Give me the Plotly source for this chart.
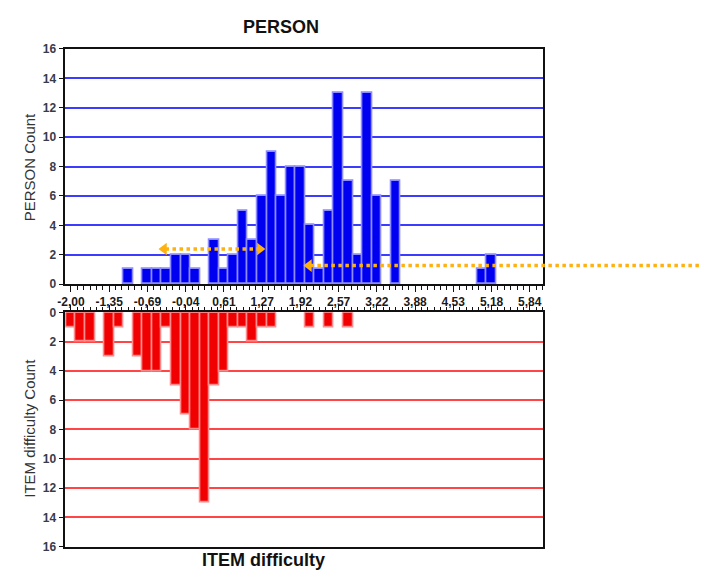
import plotly.graph_objects as go

W, H = 701, 577

# Histogram bins (logit scale): bin k is centred at BIN_START + k * BIN_WIDTH
BIN_START = -2.00
BIN_WIDTH = 0.16333

# Person counts per bin index
person_bins = [6, 8, 9, 10, 11, 12, 13, 15, 16, 17, 18, 19, 20, 21, 22, 23, 24,
               25, 26, 27, 28, 29, 30, 31, 32, 34, 43, 44]
person_counts = [1, 1, 1, 1, 2, 2, 1, 3, 1, 2, 5, 3, 6, 9, 6, 8, 8,
                 4, 1, 5, 13, 7, 2, 13, 6, 7, 1, 2]

# Item counts per bin index
item_bins = [0, 1, 2, 4, 5, 7, 8, 9, 10, 11, 12, 13, 14, 15, 16, 17, 18,
             19, 20, 21, 25, 27, 29]
item_counts = [1, 2, 2, 3, 1, 3, 4, 4, 1, 5, 7, 8, 13, 5, 4, 1, 1,
               2, 1, 1, 1, 1, 1]

# Axis labels
tick_values = [-2.00, -1.347, -0.693, -0.04, 0.613, 1.267, 1.92, 2.573,
               3.227, 3.88, 4.533, 5.187, 5.84]
tick_labels = ["-2,00", "-1,35", "-0,69", "-0,04", "0,61", "1,27", "1,92",
               "2,57", "3,22", "3,88", "4,53", "5,18", "5,84"]
count_ticks = [0, 2, 4, 6, 8, 10, 12, 14, 16]

# Dotted reference arrows
arrow_pair = (-0.486, 1.304, 2.39)   # x from, x to, count level
arrow_long = (1.99, 1.26)            # x of arrow tip, count level (runs off to the right)

X_RANGE = [-2.096, 6.073]
X_DOM = [58 / W, 541.6 / W]
TOP_DOM = [1 - 284 / H, 1 - 43 / H]
BOT_DOM = [1 - 553 / H, 1 - 313 / H]
PX_PER_UNIT = (X_DOM[1] - X_DOM[0]) * W / (X_RANGE[1] - X_RANGE[0])

FONT = "Liberation Sans, Arial, sans-serif"
ORANGE = "#FFB20F"

person_x = [BIN_START + k * BIN_WIDTH for k in person_bins]
item_x = [BIN_START + k * BIN_WIDTH for k in item_bins]

fig = go.Figure()

fig.add_trace(go.Bar(
    x=person_x, y=person_counts, width=BIN_WIDTH,
    marker=dict(color="#0000F0", line=dict(color="#8C8CFF", width=1.6)),
    xaxis="x", yaxis="y", showlegend=False,
))
fig.add_trace(go.Bar(
    x=item_x, y=item_counts, width=BIN_WIDTH,
    marker=dict(color="#F00000", line=dict(color="#FF8C8C", width=1.6)),
    xaxis="x2", yaxis="y2", showlegend=False,
))


def to_paper(xv):
    return X_DOM[0] + (xv - X_RANGE[0]) / (X_RANGE[1] - X_RANGE[0]) * (X_DOM[1] - X_DOM[0])


dot = dict(color=ORANGE, width=3.5, dash="3.5px,3.5px")
gap = 6 / PX_PER_UNIT

# dotted shafts
x0, x1, ya = arrow_pair
fig.add_shape(type="line", xref="x", yref="y",
              x0=x0 + gap, x1=x1 - gap, y0=ya, y1=ya, line=dot, layer="above")
xl, yl = arrow_long
fig.add_shape(type="line", xref="paper", yref="y",
              x0=to_paper(xl + gap), x1=1.0, y0=yl, y1=yl, line=dot, layer="above")

# arrow heads
hd = 4.5 / PX_PER_UNIT
fig.add_trace(go.Scatter(
    x=[x0 + hd, x1 - hd, xl + hd], y=[ya, ya, yl],
    mode="markers", xaxis="x", yaxis="y",
    marker=dict(symbol=["triangle-left", "triangle-right", "triangle-left"],
                size=11, color=ORANGE, line=dict(width=0)),
    cliponaxis=False, showlegend=False, hoverinfo="skip",
))

axis_common = dict(showline=True, linecolor="#111", linewidth=1.5, mirror=True,
                   zeroline=False)
minor_ticks = dict(ticks="outside", ticklen=4, tickwidth=1, tickcolor="#111",
                   tick0=-2.0, dtick=0.65333 / 6)

fig.update_layout(
    width=W, height=H,
    margin=dict(l=0, r=0, t=0, b=0),
    paper_bgcolor="white", plot_bgcolor="white",
    bargap=0,
    font=dict(family=FONT, color="#222"),
    xaxis=dict(domain=X_DOM, range=X_RANGE, anchor="y",
               tickmode="array", tickvals=tick_values, ticktext=tick_labels,
               ticks="outside", ticklen=6, tickwidth=1, tickcolor="#111",
               minor=minor_ticks,
               tickfont=dict(size=12, family=FONT, color="#1a1a1a", weight="bold"),
               showgrid=False, **axis_common),
    yaxis=dict(domain=TOP_DOM, range=[0, 16], anchor="x",
               tickmode="array", tickvals=count_ticks,
               ticks="outside", ticklen=5, tickcolor="#111",
               tickfont=dict(size=12, color="#3a3a4a", weight="bold"),
               showgrid=True, gridcolor="#3C3CFF", gridwidth=1.6, **axis_common),
    xaxis2=dict(domain=X_DOM, range=X_RANGE, anchor="y2", side="top",
                matches="x", showticklabels=False,
                tickmode="array", tickvals=tick_values,
                ticks="outside", ticklen=6, tickcolor="#111",
                minor=minor_ticks,
                showgrid=False, **axis_common),
    yaxis2=dict(domain=BOT_DOM, range=[16, 0], anchor="x2",
                tickmode="array", tickvals=count_ticks,
                ticks="outside", ticklen=5, tickcolor="#111",
                tickfont=dict(size=12, color="#3a3a4a", weight="bold"),
                showgrid=True, gridcolor="#FF4545", gridwidth=1.6, **axis_common),
)

centered = dict(xref="paper", yref="paper", showarrow=False,
                xanchor="center", yanchor="middle")
fig.add_annotation(text="<b>PERSON</b>", x=276 / W, y=1 - 20 / H,
                   font=dict(size=18, family=FONT, color="#111"), **centered)
fig.add_annotation(text="<b>ITEM difficulty</b>", x=258 / W, y=1 - 567 / H,
                   font=dict(size=18, family=FONT, color="#111"), **centered)
fig.add_annotation(text="PERSON Count", x=21.5 / W, y=1 - 164 / H, textangle=-90,
                   font=dict(size=15, family=FONT, color="#333"), **centered)
fig.add_annotation(text="ITEM difficulty Count", x=21.5 / W, y=1 - 432 / H,
                   textangle=-90,
                   font=dict(size=15, family=FONT, color="#333"), **centered)

fig.write_html("out.html")
